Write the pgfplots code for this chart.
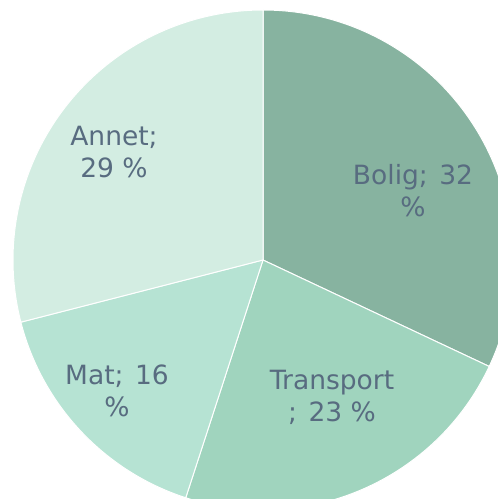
\documentclass[border=0pt]{standalone}
\usepackage{pgfplots}
\usepackage{pgfplotstable}
\pgfplotsset{compat=1.18}
\usepackage{fontspec}
\setmainfont{DejaVu Sans}
\definecolor{cBolig}{RGB}{135,179,160}
\definecolor{cTransport}{RGB}{160,212,190}
\definecolor{cMat}{RGB}{182,227,211}
\definecolor{cAnnet}{RGB}{211,237,226}
\definecolor{textc}{RGB}{88,108,128}

\pgfplotstableread{
label value
Bolig 32
Transport 23
Mat 16
Annet 29
}\piedata

\begin{document}
\begin{tikzpicture}
\pgfplotstablegetelem{0}{value}\of\piedata \let\vA\pgfplotsretval
\pgfplotstablegetelem{1}{value}\of\piedata \let\vB\pgfplotsretval
\pgfplotstablegetelem{2}{value}\of\piedata \let\vC\pgfplotsretval
\pgfplotstablegetelem{3}{value}\of\piedata \let\vD\pgfplotsretval
\pgfmathsetmacro\aA{90}
\pgfmathsetmacro\aB{\aA-3.6*\vA}
\pgfmathsetmacro\aC{\aB-3.6*\vB}
\pgfmathsetmacro\aD{\aC-3.6*\vC}
\pgfmathsetmacro\aE{\aD-3.6*\vD}
\clip (0,0) rectangle (498pt,499pt);
\begin{axis}[
  at={(0,0)}, anchor=south west,
  scale only axis, width=498pt, height=499pt,
  xmin=-263, xmax=235, ymin=-239, ymax=260,
  hide axis, clip=false,
]
\addplot[draw=none] coordinates {(0,0)};
\fill[cBolig, draw=white, line width=1pt] (axis cs:0,0) -- ++(\aA:250pt) arc[start angle=\aA, end angle=\aB, radius=250pt] -- cycle;
\fill[cTransport, draw=white, line width=1pt] (axis cs:0,0) -- ++(\aB:250pt) arc[start angle=\aB, end angle=\aC, radius=250pt] -- cycle;
\fill[cMat, draw=white, line width=1pt] (axis cs:0,0) -- ++(\aC:250pt) arc[start angle=\aC, end angle=\aD, radius=250pt] -- cycle;
\fill[cAnnet, draw=white, line width=1pt] (axis cs:0,0) -- ++(\aD:250pt) arc[start angle=\aD, end angle=\aE, radius=250pt] -- cycle;
\begin{scope}[every node/.style={align=center, inner sep=0pt, text=textc, font=\fontsize{26.5}{32}\selectfont}]
\node at (axis cs:150,69) {Bolig;\kern3pt\ 32\\\%};
\node at (axis cs:69,-137) {Transport\\;\kern3pt\ 23 \%};
\node at (axis cs:-146,-131) {Mat;\kern3pt\ 16\\\%};
\node at (axis cs:-149,108) {Annet;\\29 \%};
\end{scope}
\end{axis}
\end{tikzpicture}
\end{document}
